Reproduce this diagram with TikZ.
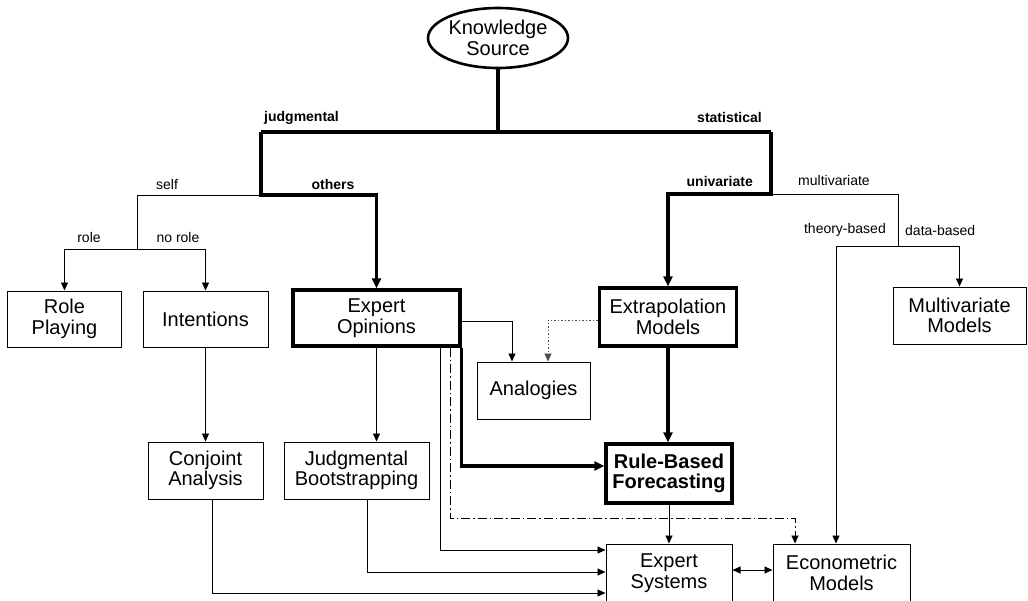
\documentclass[tikz,border=0pt]{standalone}
\usepackage{fontspec}
\setmainfont{Liberation Sans}
\usetikzlibrary{arrows.meta,shapes.geometric}
\newcommand{\boxfont}{\fontsize{20}{20.5}\selectfont}
\newcommand{\lblfont}{\fontsize{14}{16}\selectfont}
\begin{document}
\begin{tikzpicture}[x=1pt,y=-1pt,
  box/.style={draw, line width=1pt, inner sep=0pt, align=center, font=\boxfont},
  thickbox/.style={box, line width=3.2pt},
  thinline/.style={line width=0.9pt},
  thickline/.style={line width=3.2pt},
  thinarrow/.style={thinline, -{Triangle[length=8pt,width=7pt]}},
  thickarrow/.style={thickline, -{Triangle[length=10pt,width=9pt]}},
  dotarrow/.style={thinline, draw=black!70, dash pattern=on 1.5pt off 2pt, -{Triangle[length=8pt,width=7pt]}},
  dasharrow/.style={thinline, dash pattern=on 9pt off 3pt on 1.5pt off 3pt, -{Triangle[length=8pt,width=7pt]}},
  lbl/.style={inner sep=0pt, font=\lblfont},
  blbl/.style={inner sep=0pt, font=\lblfont\bfseries}]
\useasboundingbox (0,0) rectangle (1028,600);

% nodes
\node[ellipse, draw, line width=2.6pt, inner sep=0pt, minimum width=128pt, minimum height=60pt, align=center, font=\boxfont] (KS) at (498,38) {Knowledge\\Source};

\node[box, minimum width=114pt, minimum height=56pt] (RP) at (64.5,319) {Role\\Playing};
\node[box, minimum width=125pt, minimum height=56pt] (INT) at (205.5,319) {Intentions};
\node[thickbox, minimum width=167pt, minimum height=56pt] (EO) at (376.5,318) {Expert\\Opinions};
\node[thickbox, minimum width=137pt, minimum height=58pt] (EXT) at (668,317) {Extrapolation\\Models};
\node[box, minimum width=133pt, minimum height=57pt] (MV) at (959.5,315.5) {Multivariate\\Models};
\node[box, minimum width=113pt, minimum height=57pt] (AN) at (533.5,390.5) {Analogies};
\node[thickbox, minimum width=126pt, minimum height=59pt, font=\boxfont\bfseries] (RBF) at (669,473.5) {Rule-Based\\Forecasting};
\node[box, minimum width=115pt, minimum height=57pt] (CA) at (205.5,470.5) {Conjoint\\Analysis};
\node[box, minimum width=145pt, minimum height=57pt] (JB) at (356.5,470.5) {Judgmental\\Bootstrapping};
\node[box, minimum width=126pt, minimum height=58pt] (ES) at (669,573) {Expert\\Systems};
\node[box, minimum width=137pt, minimum height=58pt] (EM) at (841.5,573) {Econometric\\Models};

% junction coordinates
\coordinate (jT) at (498,132);
\coordinate (jL) at (261,132);
\coordinate (jR) at (771,132);
\coordinate (jL2) at (261,195);
\coordinate (jS) at (137,195);
\coordinate (jS2) at (137,249);
\coordinate (jR2) at (771,194);
\coordinate (jM) at (898,194);
\coordinate (jM2) at (898,246);
\coordinate (jTh) at (836,246);
\coordinate (dd) at (795,518);

% top tree
\draw[thickline] (KS.south) -- (jT);
\draw[thickline] (jL) -- (jR);
\draw[thickarrow] (jL) -- (jL2) -| (EO.north);
\draw[thinline] (jL2) -- (jS) -- (jS2);
\draw[thinarrow] (jS2) -| (RP.north);
\draw[thinarrow] (jS2) -| (INT.north);
\draw[thickarrow] (jR) -- (jR2) -| (EXT.north);
\draw[thinline] (jR2) -- (jM) -- (jM2);
\draw[thinarrow] (jM2) -| (MV.north);
\draw[thinarrow] (jM2) -- (jTh) -- (jTh |- EM.north);

% middle
\draw[thinarrow] ([yshift=-3pt]EO.east) -| ([xshift=-21.5pt]AN.north);
\draw[dotarrow] ([yshift=-3pt]EXT.west) -| ([xshift=14.5pt]AN.north);
\draw[thickarrow] (EXT.south) -- (EXT.south |- RBF.north);
\draw[thickarrow] (EO.south east) |- ([yshift=7.5pt]RBF.west);
\draw[thinarrow] ([xshift=63.5pt]EO.south) |- ([yshift=23pt]ES.west);
\draw[dasharrow] ([xshift=73.5pt]EO.south) |- (dd) -- (dd |- EM.north);
\draw[thinarrow] (INT.south) -- (CA.north);
\draw[thinarrow] (EO.south) -- (EO.south |- JB.north);

% bottom
\draw[thinarrow] ([xshift=6.5pt]CA.south) |- ([yshift=-20pt]ES.west);
\draw[thinarrow] ([xshift=10.5pt]JB.south) |- ([yshift=1pt]ES.west);
\draw[thinarrow] (RBF.south) -- (ES.north);
\draw[thinline, {Triangle[length=8pt,width=7pt]}-{Triangle[length=8pt,width=7pt]}] ([yshift=3pt]ES.east) -- ([yshift=3pt]EM.west);

% labels
\node[blbl, anchor=west] (Ljud) at (264,118) {judgmental};
\node[blbl, anchor=east] (Lsta) at (762,117) {statistical};
\node[lbl] (Lself) at (167,184) {self};
\node[blbl] (Loth) at (333,184) {others};
\node[lbl] (Lrole) at (89,237) {role};
\node[lbl] (Lnor) at (178,237) {no role};
\node[blbl, anchor=east] (Luni) at (753,181) {univariate};
\node[lbl, anchor=west] (Lmul) at (798,180) {multivariate};
\node[lbl, anchor=east] (Lthe) at (886,230) {theory-based};
\node[lbl, anchor=west] (Ldat) at (905,230) {data-based};
\end{tikzpicture}
\end{document}
